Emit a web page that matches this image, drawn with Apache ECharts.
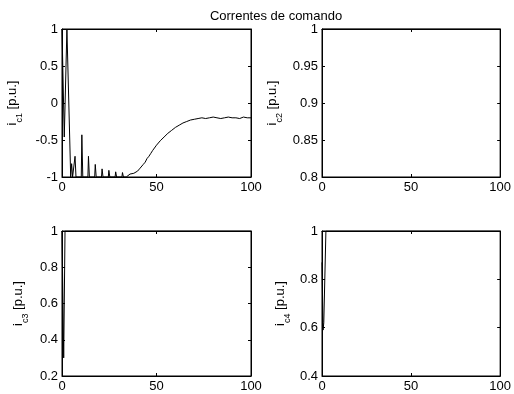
<!DOCTYPE html>
<html>
<head>
<meta charset="utf-8">
<title>Correntes de comando</title>
<script src="https://cdn.jsdelivr.net/npm/echarts@6/dist/echarts.min.js"></script>
<style>
    html, body { margin: 0; padding: 0; background: #fff; }
    #main { width: 514px; height: 394px; }
</style>
</head>
<body>
<div id="main"></div>
<script>
// dados
var xTicks = [0, 50, 100];

// i_c1
var t1 = [0, 0.6, 1.2, 2.6, 3.6, 4.6,
    4.8, 5.1, 5.6,
    6.6, 6.9, 7.4,
    10.2, 10.5, 11.0,
    13.7, 14.0, 14.5,
    17.3, 17.6, 18.1,
    20.9, 21.2, 21.7,
    24.5, 24.8, 25.3,
    28.1, 28.4, 28.9,
    31.7, 32.0, 32.5,
    34, 35, 36, 37, 38, 39, 40, 41, 42, 43, 44, 45, 46, 47, 48,
    50, 52, 54, 56, 58, 60, 62, 64, 66, 68, 70, 72, 74, 76, 78, 80,
    82, 84, 86, 88, 90, 92, 94, 96, 98, 100];
var ic1 = [1, 1, -0.46, 1, 1, -1,
    -1, -0.82, -1,
    -1, -0.72, -1,
    -1, -0.43, -1,
    -1, -0.72, -1,
    -1, -0.83, -1,
    -1, -0.89, -1,
    -1, -0.91, -1,
    -1, -0.93, -1,
    -1, -0.94, -1,
    -1, -0.98, -0.96, -0.98, -0.95, -0.94, -0.92, -0.89, -0.87, -0.83, -0.80, -0.75, -0.72, -0.68, -0.64,
    -0.57, -0.51, -0.46, -0.41, -0.37, -0.33, -0.30, -0.27, -0.25, -0.23, -0.22, -0.21, -0.20, -0.21, -0.20, -0.19,
    -0.20, -0.21, -0.20, -0.19, -0.20, -0.20, -0.21, -0.19, -0.20, -0.20];

// i_c2
var t2 = [0, 100];
var ic2 = [1, 1];

// i_c3
var t3 = [0, 0.9, 1.6, 100];
var ic3 = [1, 0.30, 1, 1];

// i_c4
var t4 = [0, 0.6, 1.0, 2.2, 100];
var ic4 = [0.87, 0.59, 0.62, 1, 1];

// limites do eixo y de cada subplot
var yMin = [-1, 0.8, 0.2, 0.4];
var yMax = [1, 1, 1, 1];
var yStep = [0.5, 0.05, 0.2, 0.2];
var yNames = ['c1', 'c2', 'c3', 'c4'];

(function () {
    var myChart = echarts.init(document.getElementById('main'));

    function pares(t, v) {
        var out = [];
        for (var i = 0; i < t.length; i++) out.push([t[i], v[i]]);
        return out;
    }

    var series_t = [t1, t2, t3, t4];
    var series_v = [ic1, ic2, ic3, ic4];

    var grids = [
        { left: 62, top: 29, width: 189, height: 148 },
        { left: 322, top: 29, width: 181, height: 148 },
        { left: 62, top: 231, width: 189, height: 145 },
        { left: 322, top: 231, width: 181, height: 145 }
    ];
    var nameGaps = [38, 38, 32, 30];

    var font = 'Liberation Sans, Arial, Helvetica, sans-serif';
    var xAxis = [], yAxis = [], series = [];

    var linha = { show: true, onZero: false, lineStyle: { color: '#000', width: 1 } };
    var tick = { show: true, inside: true, length: 3, lineStyle: { color: '#000' } };

    for (var g = 0; g < 4; g++) {
        grids[g].show = true;
        grids[g].borderColor = '#000';
        grids[g].borderWidth = 1;
        grids[g].backgroundColor = '#fff';

        // eixo x de baixo e de cima (box on)
        xAxis.push({
            gridIndex: g, type: 'value', min: xTicks[0], max: xTicks[2], interval: 50,
            axisLine: linha, axisTick: tick,
            axisLabel: { color: '#000', fontSize: 13, fontFamily: font, margin: 4 },
            splitLine: { show: false }
        });
        xAxis.push({
            gridIndex: g, type: 'value', position: 'top', min: xTicks[0], max: xTicks[2], interval: 50,
            axisLine: linha, axisTick: tick,
            axisLabel: { show: false },
            splitLine: { show: false }
        });
        // eixo y esquerdo e direito
        yAxis.push({
            gridIndex: g, type: 'value', min: yMin[g], max: yMax[g], interval: yStep[g],
            name: '{i|i}{s|' + yNames[g] + '}{n| [p.u.]}',
            nameLocation: 'middle', nameRotate: 90, nameGap: nameGaps[g],
            nameTextStyle: {
                color: '#000', fontFamily: font,
                rich: {
                    i: { fontSize: 13, fontFamily: font, color: '#000', lineHeight: 18, verticalAlign: 'top' },
                    s: { fontSize: 9, fontFamily: font, color: '#000', lineHeight: 18, verticalAlign: 'bottom' },
                    n: { fontSize: 13, fontFamily: font, color: '#000', lineHeight: 18, verticalAlign: 'top' }
                }
            },
            axisLine: linha, axisTick: tick,
            axisLabel: { color: '#000', fontSize: 13, fontFamily: font, margin: 4 },
            splitLine: { show: false }
        });
        yAxis.push({
            gridIndex: g, type: 'value', position: 'right', min: yMin[g], max: yMax[g], interval: yStep[g],
            axisLine: linha, axisTick: tick,
            axisLabel: { show: false },
            splitLine: { show: false }
        });

        series.push({
            type: 'line',
            xAxisIndex: g * 2,
            yAxisIndex: g * 2,
            data: pares(series_t[g], series_v[g]),
            showSymbol: false,
            symbol: 'none',
            clip: true,
            lineStyle: { color: '#000', width: 1 },
            animation: false
        });
    }

    var option = {
        animation: false,
        backgroundColor: '#fff',
        title: {
            text: 'Correntes de comando',
            left: 271, top: 5,
            textAlign: 'center',
            textStyle: { color: '#000', fontSize: 13, fontWeight: 'normal', fontFamily: font }
        },
        grid: grids,
        xAxis: xAxis,
        yAxis: yAxis,
        series: series
    };

    myChart.setOption(option);
})();
</script>
</body>
</html>
